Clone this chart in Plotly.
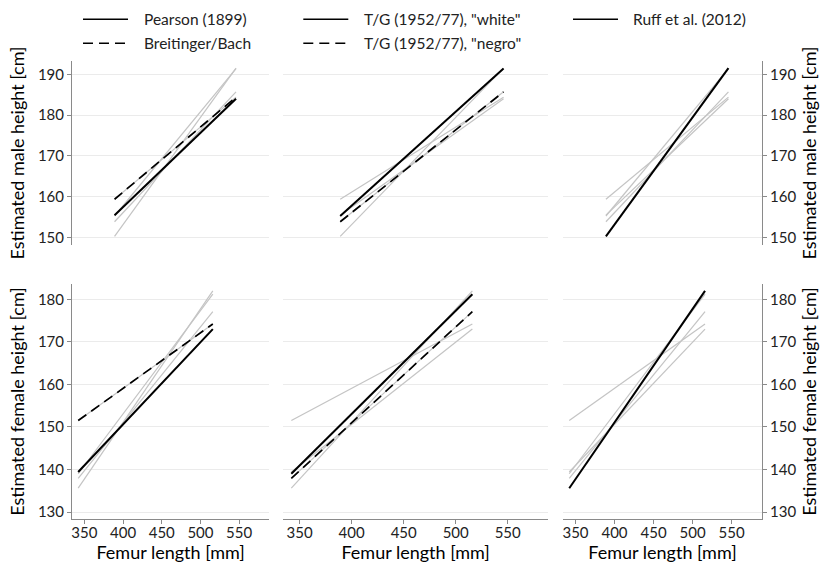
import plotly.graph_objects as go
from plotly.subplots import make_subplots

# Femur length range covered by each regression formula [mm]
femur_male = [389, 546]
femur_female = [342, 516]

# Estimated stature at the ends of that range [cm]
pearson_male = [155.5, 184.0]
breitinger_male = [159.4, 184.4]
tg_white_male = [155.3, 191.4]
tg_negro_male = [153.9, 185.7]
ruff_male = [150.3, 191.5]

pearson_female = [139.4, 173.0]
breitinger_female = [151.5, 174.2]
tg_white_female = [139.0, 181.2]
tg_negro_female = [137.9, 177.1]
ruff_female = [135.6, 182.0]

method_names = ["Pearson (1899)", "Breitinger/Bach", 'T/G (1952/77), "white"',
                'T/G (1952/77), "negro"', "Ruff et al. (2012)"]
male_series = [pearson_male, breitinger_male, tg_white_male, tg_negro_male, ruff_male]
female_series = [pearson_female, breitinger_female, tg_white_female, tg_negro_female, ruff_female]
line_dash = ["solid", "10px,6px", "solid", "10px,6px", "solid"]

# which methods are emphasised in each column
column_methods = [[0, 1], [2, 3], [4]]

x_ticks = [350, 400, 450, 500, 550]
male_ticks = [150, 160, 170, 180, 190]
female_ticks = [130, 140, 150, 160, 170, 180]

FONT = "Lato"
GREY = "#c4c4c4"
AXIS = "#8a8a8a"
GRID = "#ebebeb"
TEXT = "#222222"

W, H = 822, 564
ML, MR, MT, MB = 72, 60, 61, 45
PW, PH = W - ML - MR, H - MT - MB


def px_x(p):
    return min(1.0, max(0.0, (p - ML) / PW))


def px_y(p):
    return (H - MB - p) / PH


fig = make_subplots(rows=2, cols=3)

for row, (xs, series) in enumerate([(femur_male, male_series), (femur_female, female_series)], start=1):
    for col, highlighted in enumerate(column_methods, start=1):
        for ys in series:
            fig.add_trace(go.Scatter(x=xs, y=ys, mode="lines",
                                     line=dict(color=GREY, width=1.2),
                                     showlegend=False, hoverinfo="skip"),
                          row=row, col=col)
        for i in highlighted:
            fig.add_trace(go.Scatter(x=xs, y=series[i], mode="lines", name=method_names[i],
                                     line=dict(color="black",
                                               width=2.0 if line_dash[i] == "solid" else 1.7,
                                               dash=line_dash[i]),
                                     showlegend=False),
                          row=row, col=col)

col_domains = [[0.0, px_x(269.3)], [px_x(283), px_x(548.3)], [px_x(563), 1.0]]
row_domains = [[max(0.0, px_y(245)), 1.0], [0.0, min(1.0, px_y(284))]]

tick_font = dict(family=FONT, size=15, color=TEXT)
title_font = dict(family=FONT, size=18, color="black")

for row in (1, 2):
    for col in (1, 2, 3):
        idx = (row - 1) * 3 + col
        xname = "xaxis" if idx == 1 else f"xaxis{idx}"
        yname = "yaxis" if idx == 1 else f"yaxis{idx}"
        xa = dict(domain=col_domains[col - 1], range=[334, 589], tickvals=x_ticks,
                  showgrid=False, zeroline=False, tickfont=tick_font, automargin=False)
        if row == 2:
            xa.update(showline=True, linecolor=AXIS, linewidth=1, ticks="outside",
                      ticklen=4, tickcolor=AXIS, showticklabels=True,
                      ticklabelstandoff=-4,
                      title=dict(text="Femur length [mm]", font=title_font, standoff=4))
        else:
            xa.update(showline=False, ticks="", showticklabels=False)
        ticks_y = male_ticks if row == 1 else female_ticks
        ya = dict(domain=row_domains[row - 1],
                  range=[148.2, 193.25] if row == 1 else [128.36, 183.6],
                  tickvals=ticks_y, showgrid=True, gridcolor=GRID, gridwidth=1,
                  zeroline=False, tickfont=tick_font, automargin=False)
        ytitle = "Estimated male height [cm]" if row == 1 else "Estimated female height [cm]"
        if col == 2:
            ya.update(showline=False, ticks="", showticklabels=False)
        else:
            ya.update(showline=True, linecolor=AXIS, linewidth=1, ticks="outside",
                      ticklen=4, tickcolor=AXIS, showticklabels=True,
                      title=dict(text=ytitle, font=title_font, standoff=8))
            if col == 3:
                ya.update(side="right")
        fig.layout[xname].update(xa)
        fig.layout[yname].update(ya)

# legend keys above each column
legend_rows = [19.3, 43.3]
legend_cols = [(83, 128, 141.7), (303.3, 348.3, 361.7), (573, 618, 630.7)]
shapes, annotations = [], []
for (x0, x1, xt), methods in zip(legend_cols, column_methods):
    for k, i in enumerate(methods):
        yy = px_y(legend_rows[k])
        shapes.append(dict(type="line", xref="paper", yref="paper",
                           x0=px_x(x0), x1=px_x(x1), y0=yy, y1=yy,
                           line=dict(color="black", width=1.6,
                                     dash="solid" if line_dash[i] == "solid" else "10px,6px")))
        annotations.append(dict(xref="paper", yref="paper", x=px_x(xt), y=yy,
                                text=method_names[i], showarrow=False,
                                xanchor="left", yanchor="middle",
                                font=dict(family=FONT, size=15.5, color=TEXT)))

fig.update_layout(width=W, height=H,
                  margin=dict(l=ML, r=MR, t=MT, b=MB, pad=0),
                  plot_bgcolor="white", paper_bgcolor="white",
                  shapes=shapes, annotations=annotations,
                  font=dict(family=FONT, color=TEXT),
                  showlegend=False)

fig.write_html("out.html")
